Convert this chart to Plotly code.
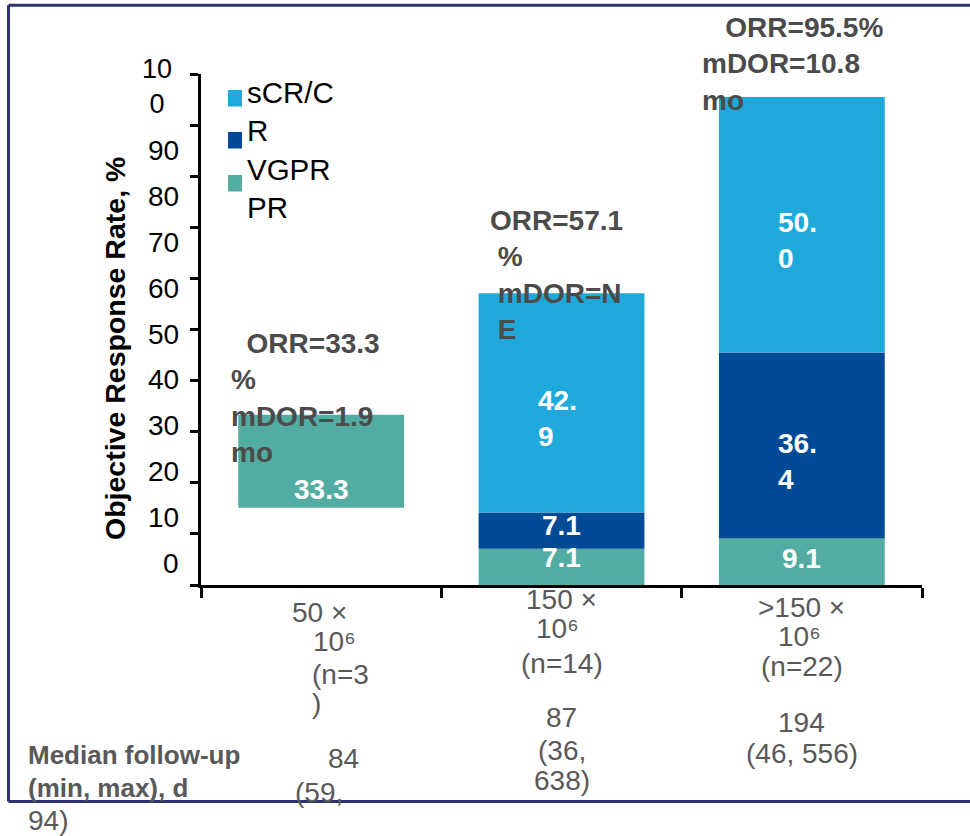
import plotly.graph_objects as go

# ---------------- data ----------------
categories = ["50 × 10⁶ (n=3)", "150 × 10⁶ (n=14)", ">150 × 10⁶ (n=22)"]
pr = [33.3, 7.1, 9.1]          # VGPR/PR segment (top of teal bar)
r = [None, 7.1, 36.4]          # dark-blue segment
scr = [None, 42.9, 50.0]       # sCR/CR segment
pr_floor = [15.1, 0.0, 0.0]    # the first bar floats above 0 in the reference

pr_text = ["33.3", "7.1", "9.1"]
r_text = [None, "7.1", "36.<br>4"]
scr_text = [None, "42.<br>9", "50.<br>0"]

orr_text = [
    "\u00a0\u00a0ORR=33.3<br>%<br>mDOR=1.9<br>mo",
    "ORR=57.1<br>\u00a0%<br>\u00a0mDOR=N<br>\u00a0E",
    "\u00a0\u00a0\u00a0ORR=95.5%<br>mDOR=10.8<br>mo",
]

dose_lines = [
    ["50 ×", "10⁶", "(n=3", ")"],
    ["150 ×", "10⁶", "(n=14)"],
    [">150 ×", "10⁶", "(n=22)"],
]
followup_lines = [
    ["84", "(59,", "94)"],
    ["87", "(36,", "638)"],
    ["194", "(46, 556)"],
]
followup_title = ["Median follow-up", "(min, max), d"]

ytick_vals = list(range(0, 101, 10))
ytick_labels = ["0", "10", "20", "30", "40", "50", "60", "70", "80", "90", "10<br>0"]
legend_lines = ["sCR/C", "R", "VGPR", "PR"]
y_title = "Objective Response Rate, %"

# ---------------- style ----------------
LIGHT = "#1FA9DB"
DARK = "#004A96"
TEAL = "#53ACA2"
ORR_GRAY = "#4B4B4B"
CAT_GRAY = "#595959"
BORDER = "#2E3270"
FONT = "Liberation Sans, Arial, sans-serif"

W, H = 970, 836
PX0, PX1, PY0, PY1 = 201, 922, 74, 585


def px(x):
    return (x - PX0) / (PX1 - PX0)


def py(y):
    return (PY1 - y) / (PY1 - PY0)


xs = list(range(len(categories)))
z = lambda v: v or 0
r_base = pr[:]
scr_base = [p + z(q) for p, q in zip(pr, r)]
totals = [p + z(q) + z(s) for p, q, s in zip(pr, r, scr)]
BW = 0.69

fig = go.Figure()
fig.add_trace(go.Bar(x=xs, y=[p - f for p, f in zip(pr, pr_floor)], base=pr_floor,
                     marker=dict(color=TEAL, line=dict(width=0)), width=BW,
                     name="VGPR/PR", showlegend=False, hoverinfo="skip"))
fig.add_trace(go.Bar(x=xs, y=r, base=r_base,
                     marker=dict(color=DARK, line=dict(width=0)), width=BW,
                     name="CR", showlegend=False, hoverinfo="skip"))
fig.add_trace(go.Bar(x=xs, y=scr, base=scr_base,
                     marker=dict(color=LIGHT, line=dict(width=0)), width=BW,
                     name="sCR/CR", showlegend=False, hoverinfo="skip"))

ann = []

# segment value labels
seg_specs = [
    (pr_text, [(f + p) / 2 for f, p in zip(pr_floor, pr)], [-27.7, 8.9, 3.7]),
    (r_text, [b + z(v) / 2 for b, v in zip(r_base, r)], [0, 4.9, -15.5]),
    (scr_text, [b + z(v) / 2 for b, v in zip(scr_base, scr)], [0, -15.8, -15.8]),
]
for texts, centers, shifts in seg_specs:
    for i, t in enumerate(texts):
        if not t:
            continue
        ann.append(dict(x=xs[i], y=centers[i], xref="x", yref="y", text=t,
                        showarrow=False, xanchor="center", yanchor="middle",
                        align="left", xshift=(-4 if "<br>" in t else 0),
                        yshift=shifts[i],
                        font=dict(family=FONT, size=28, color="white", weight="bold")))

# ORR / mDOR labels
orr_dx = [-92, -73.5, -102]
orr_dy = [17, 18.6, 32.6]
for i, t in enumerate(orr_text):
    ann.append(dict(x=xs[i], y=totals[i], xref="x", yref="y", text=t,
                    showarrow=False, xanchor="left", yanchor="middle", align="left",
                    xshift=orr_dx[i], yshift=orr_dy[i],
                    font=dict(family=FONT, size=28, color=ORR_GRAY, weight="bold")))

# y tick labels (drawn offset from the tick marks, as in the reference)
for i, t in enumerate(ytick_labels):
    if "<br>" in t:
        ann.append(dict(x=px(174), y=py(86.5), xref="paper", yref="paper", text=t,
                        showarrow=False, xanchor="right", yanchor="middle", align="center",
                        font=dict(family=FONT, size=27, color="black")))
    else:
        ann.append(dict(x=px(181), y=py(563 - 45.8 * i), xref="paper", yref="paper", text=t,
                        showarrow=False, xanchor="right", yanchor="middle",
                        font=dict(family=FONT, size=28, color="black")))

# y-axis title
ann.append(dict(x=px(115), y=py(349), xref="paper", yref="paper", text=y_title,
                textangle=-90, showarrow=False, xanchor="center", yanchor="middle",
                font=dict(family=FONT, size=28.5, color="black", weight="bold")))

# legend
leg_colors = [LIGHT, DARK, TEAL]
leg_tops = [90, 132, 175]
shapes = []
for c, t in zip(leg_colors, leg_tops):
    shapes.append(dict(type="rect", xref="paper", yref="paper",
                       x0=px(228), x1=px(242), y0=py(t + 16.5), y1=py(t),
                       fillcolor=c, line=dict(width=0)))
ann.append(dict(x=px(245), y=py(149.5), xref="paper", yref="paper",
                text="<br>".join(legend_lines), showarrow=False,
                xanchor="left", yanchor="middle", align="left",
                font=dict(family=FONT, size=29.5, color="black")))

# category (dose) labels and follow-up values, one line each
dose_y = [[612, 641, 674, 703], [599, 628, 663], [607.5, 636, 666]]
dose_dx = [[-31.5, -10.5, -11.5, -11.5], [0, -4, 0], [0, -2, 0]]
fu_y = [[758, 792, 820], [717, 750, 780], [722, 753]]
fu_dx = [[4.8, -28.2, None], [0, 0, 0], [0, 0]]
for i in range(len(categories)):
    anchor = "left" if i == 0 else "center"
    for j, t in enumerate(dose_lines[i]):
        ann.append(dict(x=xs[i], y=py(dose_y[i][j]), xref="x", yref="paper", text=t,
                        showarrow=False, xanchor=anchor, yanchor="middle",
                        xshift=dose_dx[i][j],
                        font=dict(family=FONT, size=28, color=CAT_GRAY)))
    for j, t in enumerate(followup_lines[i]):
        if fu_dx[i][j] is None:
            ann.append(dict(x=px(26), y=py(fu_y[i][j]), xref="paper", yref="paper", text=t,
                            showarrow=False, xanchor="left", yanchor="middle",
                            font=dict(family=FONT, size=28, color=CAT_GRAY)))
        else:
            ann.append(dict(x=xs[i], y=py(fu_y[i][j]), xref="x", yref="paper", text=t,
                            showarrow=False, xanchor=anchor, yanchor="middle",
                            xshift=fu_dx[i][j],
                            font=dict(family=FONT, size=28, color=CAT_GRAY)))

for j, (t, yy) in enumerate(zip(followup_title, [755, 788])):
    ann.append(dict(x=px(26), y=py(yy), xref="paper", yref="paper", text=t,
                    showarrow=False, xanchor="left", yanchor="middle",
                    font=dict(family=FONT, size=26, color=CAT_GRAY, weight="bold")))

# outer slide border: top, left and bottom edges (right edge is off the picture)
bx0, bx1, by0, by1 = px(8.5), px(970), py(801.5), py(5.3)
for (xa, ya, xb, yb) in [(bx0, by1, bx1, by1), (bx0, by0, bx0, by1), (bx0, by0, bx1, by0)]:
    shapes.append(dict(type="line", xref="paper", yref="paper",
                       x0=xa, y0=ya, x1=xb, y1=yb,
                       line=dict(color=BORDER, width=3), layer="below"))

fig.update_layout(
    width=W, height=H,
    margin=dict(l=PX0, r=W - PX1, t=PY0, b=H - PY1, pad=0),
    paper_bgcolor="white", plot_bgcolor="white",
    barmode="overlay",
    showlegend=False,
    font=dict(family=FONT),
    xaxis=dict(range=[-0.5, 2.5], tickvals=[-0.5, 0.5, 1.5, 2.5],
               showticklabels=False, ticks="outside", ticklen=10, tickwidth=2.5,
               tickcolor="black", showline=True, linecolor="black", linewidth=2.5,
               showgrid=False, zeroline=False, fixedrange=True),
    yaxis=dict(range=[0, 100], tickvals=ytick_vals, showticklabels=False,
               ticks="outside", ticklen=8, tickwidth=2.5, tickcolor="black",
               showline=True, linecolor="black", linewidth=2.5,
               showgrid=False, zeroline=False, fixedrange=True),
    annotations=ann,
    shapes=shapes,
)

fig.write_html("out.html", config={"displayModeBar": False})
